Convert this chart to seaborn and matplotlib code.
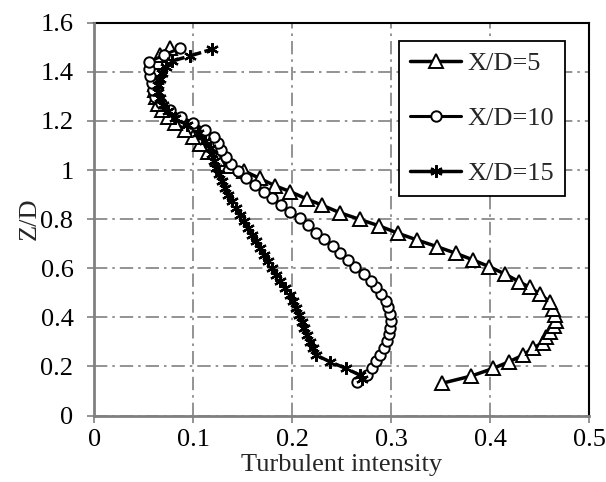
import numpy as np
import pandas as pd
import matplotlib
matplotlib.use('Agg')
import matplotlib.pyplot as plt
import seaborn as sns

sns.set_theme(style='white')
plt.rcParams['font.family'] = ['Liberation Serif', 'DejaVu Serif']

# ── data (turbulent intensity vs Z/D) ────────────────────────────────────────
ti_5 = [0.351, 0.381, 0.403, 0.419, 0.433, 0.443, 0.453, 0.456, 0.460, 0.464,
        0.466, 0.465, 0.463, 0.460, 0.450, 0.440, 0.429, 0.415, 0.399, 0.383,
        0.365, 0.346, 0.326, 0.307, 0.288, 0.268, 0.248, 0.230, 0.215, 0.198,
        0.183, 0.167, 0.151, 0.136, 0.125, 0.115, 0.107, 0.100, 0.092, 0.082,
        0.074, 0.068, 0.064, 0.062, 0.061, 0.061, 0.062, 0.063, 0.064, 0.066,
        0.076]
zd_5 = [0.131, 0.161, 0.192, 0.219, 0.246, 0.274, 0.297, 0.318, 0.341, 0.365,
        0.386, 0.409, 0.433, 0.464, 0.495, 0.522, 0.545, 0.576, 0.606, 0.633,
        0.661, 0.688, 0.715, 0.742, 0.772, 0.799, 0.826, 0.857, 0.881, 0.912,
        0.935, 0.966, 0.997, 1.016, 1.045, 1.075, 1.105, 1.135, 1.163, 1.190,
        1.215, 1.243, 1.270, 1.298, 1.325, 1.352, 1.380, 1.410, 1.440, 1.470,
        1.497]

ti_10 = [0.265, 0.275, 0.281, 0.285, 0.289, 0.293, 0.296, 0.298, 0.299, 0.300,
         0.299, 0.297, 0.295, 0.290, 0.285, 0.279, 0.272, 0.263, 0.256, 0.248,
         0.241, 0.232, 0.224, 0.216, 0.208, 0.198, 0.189, 0.180, 0.171, 0.162,
         0.153, 0.145, 0.138, 0.133, 0.128, 0.125, 0.121, 0.112, 0.100, 0.088,
         0.076, 0.067, 0.061, 0.059, 0.058, 0.056, 0.055, 0.055, 0.070, 0.087]
zd_10 = [0.138, 0.165, 0.192, 0.220, 0.248, 0.276, 0.303, 0.331, 0.358, 0.386,
         0.413, 0.441, 0.468, 0.495, 0.522, 0.549, 0.578, 0.606, 0.633, 0.661,
         0.690, 0.718, 0.745, 0.775, 0.803, 0.830, 0.857, 0.885, 0.912, 0.939,
         0.967, 0.995, 1.024, 1.052, 1.080, 1.108, 1.135, 1.163, 1.190, 1.217,
         1.245, 1.272, 1.299, 1.326, 1.353, 1.383, 1.411, 1.439, 1.468, 1.497]

ti_15 = [0.270, 0.268, 0.254, 0.238, 0.224, 0.221, 0.218, 0.215, 0.212, 0.210,
         0.207, 0.204, 0.201, 0.198, 0.193, 0.188, 0.184, 0.179, 0.175, 0.171,
         0.167, 0.163, 0.159, 0.155, 0.151, 0.147, 0.143, 0.139, 0.135, 0.132,
         0.129, 0.126, 0.123, 0.121, 0.119, 0.117, 0.112, 0.105, 0.094, 0.082,
         0.074, 0.069, 0.066, 0.064, 0.064, 0.066, 0.068, 0.072, 0.078, 0.097,
         0.119]
zd_15 = [0.150, 0.165, 0.192, 0.219, 0.246, 0.273, 0.300, 0.328, 0.355, 0.382,
         0.410, 0.437, 0.465, 0.492, 0.519, 0.546, 0.573, 0.600, 0.628, 0.655,
         0.682, 0.709, 0.736, 0.764, 0.791, 0.818, 0.845, 0.873, 0.900, 0.927,
         0.955, 0.982, 1.009, 1.036, 1.064, 1.091, 1.120, 1.150, 1.182, 1.212,
         1.240, 1.265, 1.292, 1.318, 1.345, 1.370, 1.395, 1.420, 1.443, 1.465,
         1.492]

x_ticks = [0, 0.1, 0.2, 0.3, 0.4, 0.5]
x_labels = ['0', '0.1', '0.2', '0.3', '0.4', '0.5']
y_ticks = [0, 0.2, 0.4, 0.6, 0.8, 1.0, 1.2, 1.4, 1.6]
y_labels = ['0', '0.2', '0.4', '0.6', '0.8', '1', '1.2', '1.4', '1.6']

GRAY = '#808080'
FS = 19

fig = plt.figure(figsize=(6.06, 4.82), dpi=100)
ax = fig.add_axes([94.3 / 606, 1 - 415.5 / 482, 495 / 606, 392.8 / 482])

sns.lineplot(x=ti_5, y=zd_5, sort=False, estimator=None, ax=ax,
             color='black', lw=2.5, marker='^', markersize=9.5,
             markerfacecolor='white', markeredgecolor='black',
             markeredgewidth=1.4, label='X/D=5', zorder=3)
sns.lineplot(x=ti_10, y=zd_10, sort=False, estimator=None, ax=ax,
             color='black', lw=2.2, marker='o', markersize=7.5,
             markerfacecolor='white', markeredgecolor='black',
             markeredgewidth=1.4, label='X/D=10', zorder=4)
sns.lineplot(x=ti_15, y=zd_15, sort=False, estimator=None, ax=ax,
             color='black', lw=2.5, linestyle=(0, (4, 1)),
             marker=(6, 2, 0), markersize=9,
             markeredgecolor='black', markeredgewidth=1.6,
             label='X/D=15', zorder=5)

ax.set_xlim(0, 0.5)
ax.set_ylim(0, 1.6)
ax.set_xticks(x_ticks)
ax.set_xticklabels(x_labels)
ax.set_yticks(y_ticks)
ax.set_yticklabels(y_labels)
ax.tick_params(axis='both', direction='out', length=5, width=1.2,
               color=GRAY, labelsize=FS, labelcolor='black')
ax.tick_params(axis='x', pad=5, bottom=True)
ax.tick_params(axis='y', pad=10, left=True)

ax.grid(True, color=GRAY, lw=1.2, linestyle=(0, (8, 3, 1.5, 3)))
ax.set_axisbelow(True)

for side in ['top', 'right']:
    ax.spines[side].set_color('black')
    ax.spines[side].set_linewidth(1.5)
for side in ['left', 'bottom']:
    ax.spines[side].set_color(GRAY)
    ax.spines[side].set_linewidth(2)
    ax.spines[side].set_zorder(6)

ax.set_xlabel('Turbulent intensity', fontsize=FS, labelpad=2)
ax.set_ylabel('Z/D', fontsize=FS, labelpad=0)

leg = ax.legend(loc='upper right', bbox_to_anchor=(0.951, 0.953),
                borderaxespad=0, fontsize=FS, frameon=True, fancybox=False,
                edgecolor='black', framealpha=1, handlelength=1.95,
                labelspacing=1.2, borderpad=0.4, handletextpad=0.25)
leg.get_frame().set_linewidth(1.3)
leg.set_zorder(10)
# legend sample for X/D=15 is drawn solid in the reference
leg.get_lines()[2].set_linestyle('-')

fig.savefig('out.png', dpi=100)
